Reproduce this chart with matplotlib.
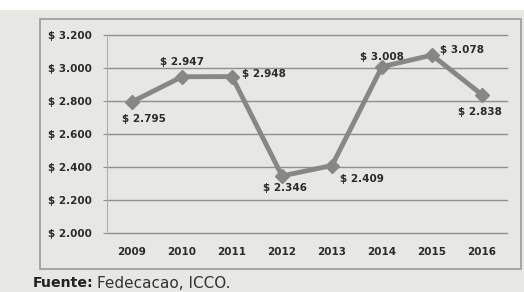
import matplotlib
matplotlib.use('Agg')
import matplotlib.pyplot as plt
from matplotlib.patches import Rectangle

# datos del gráfico (precio del cacao)
years = ['2009', '2010', '2011', '2012', '2013', '2014', '2015', '2016']
prices = [2795, 2947, 2948, 2346, 2409, 3008, 3078, 2838]
price_labels = ['$ 2.795', '$ 2.947', '$ 2.948', '$ 2.346', '$ 2.409', '$ 3.008', '$ 3.078', '$ 2.838']
y_ticks = [2000, 2200, 2400, 2600, 2800, 3000, 3200]
y_tick_labels = ['$ 2.000', '$ 2.200', '$ 2.400', '$ 2.600', '$ 2.800', '$ 3.000', '$ 3.200']

# desplazamientos de las etiquetas (pixeles)
offsets = [(12, -17), (0, 15), (32, 3), (3, -12), (30, -13), (0, 10), (30, 5), (-2, -17)]

txt = '#2b2b2b'
grid = '#8f8f8f'
paper = '#e7e7e4'

fig = plt.figure(figsize=(5.24, 2.92), dpi=100)
fig.patch.set_facecolor(paper)
# franja blanca superior del recorte
fig.patches.append(Rectangle((0, 1 - 10 / 292), 1, 10 / 292, transform=fig.transFigure,
                             facecolor='white', edgecolor='none', zorder=0))
# marco exterior
fig.patches.append(Rectangle((40 / 524, 1 - 269 / 292), 481 / 524, 250 / 292, transform=fig.transFigure,
                             facecolor='none', edgecolor='#9a9a9a', linewidth=1.2, zorder=1))

ax = fig.add_axes([107 / 524, 1 - 233 / 292, 400 / 524, 198 / 292])
ax.set_facecolor('none')

x = list(range(len(years)))
ax.plot(x, prices, color='#878787', linewidth=3.5, marker='D', markersize=7,
        markerfacecolor='#878787', markeredgecolor='#878787', zorder=3)

for xi, v, lab, (dx, dy) in zip(x, prices, price_labels, offsets):
    ax.annotate(lab, (xi, v), xytext=(dx, dy), textcoords='offset pixels',
                ha='center', va='center', fontsize=7.5, fontweight='bold', color=txt)

ax.set_xlim(-0.5, 7.5)
ax.set_ylim(2000, 3200)
ax.set_yticks(y_ticks)
ax.set_yticklabels(y_tick_labels)
ax.set_xticks(x)
ax.set_xticklabels(years)
ax.yaxis.grid(True, color=grid, linewidth=1)
for gl in ax.get_ygridlines():
    gl.set_clip_on(False)
ax.set_axisbelow(True)

for s in ['top', 'right', 'bottom']:
    ax.spines[s].set_visible(False)
ax.spines['left'].set_color('#b0b0b0')
ax.tick_params(axis='y', length=3, color=grid, pad=8, labelsize=7.5, labelcolor=txt)
ax.tick_params(axis='x', length=0, pad=10, labelsize=7.5, labelcolor=txt)
for t in ax.get_xticklabels() + ax.get_yticklabels():
    t.set_fontweight('bold')

fig.text(33 / 524, 1 - 276 / 292, 'Fuente:', fontsize=10.2, fontweight='bold', color='#222222', va='top')
fig.text(97 / 524, 1 - 276 / 292, 'Fedecacao, ICCO.', fontsize=11, color='#333333', va='top')

fig.savefig('out.png', dpi=100, facecolor=fig.get_facecolor())
